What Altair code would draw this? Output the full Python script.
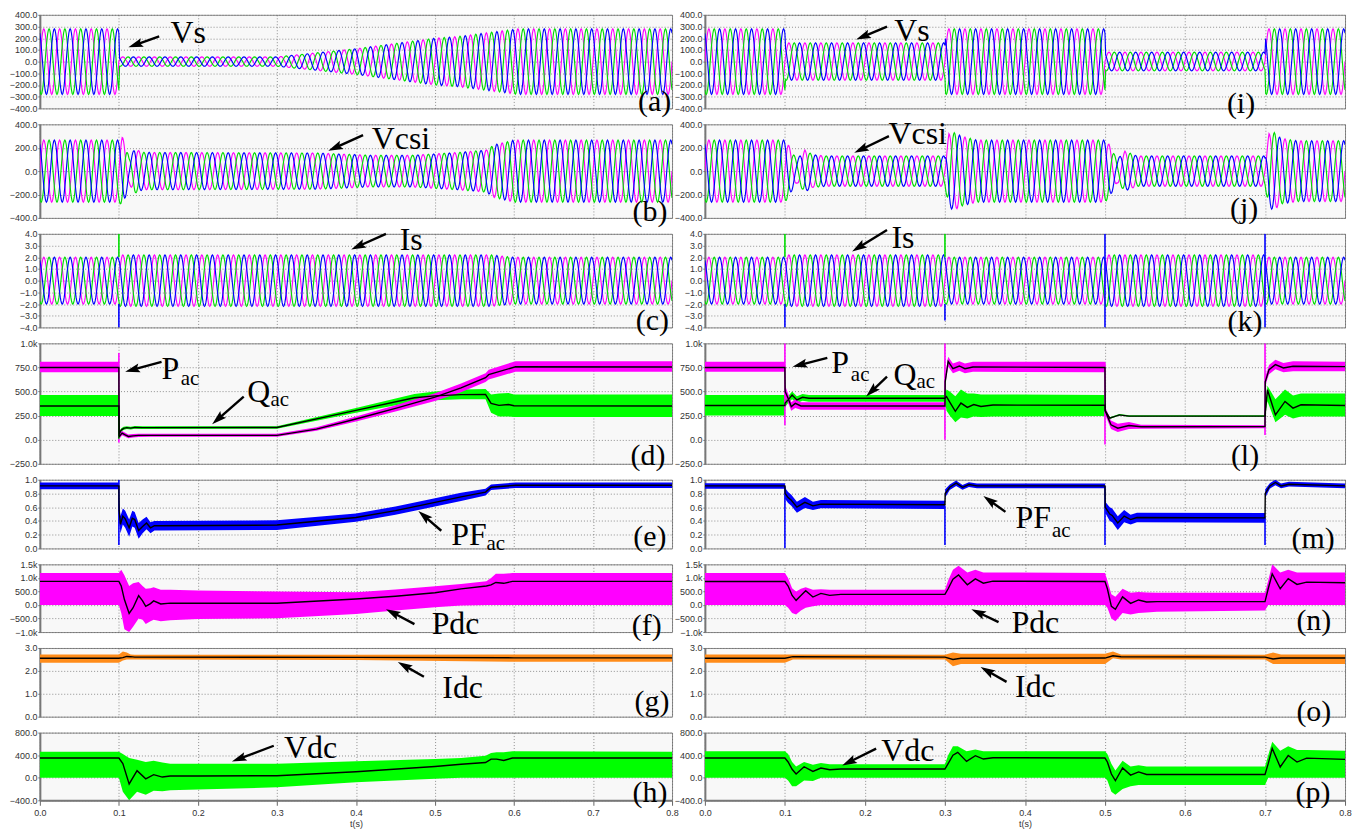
import math
import numpy as np
import pandas as pd
import altair as alt

alt.data_transformers.disable_max_rows()

# ---------------------------------------------------------------- colours
MAG = "#ff00ff"
GRN = "#00dd00"
BLU = "#0000ff"
BGRN = "#00ff00"
ORG = "#ff8c1a"

FREQ = 50.0          # 5 cycles per 0.1 s in the picture
FS = 1200            # drawing resolution of the sinusoids
T_END = 0.8
XT = [0.0, 0.1, 0.2, 0.3, 0.4, 0.5, 0.6, 0.7, 0.8]
PHASES = [("m", 0.0, MAG), ("g", -120.0, GRN), ("b", 120.0, BLU)]

# ================================================================ DATA
# ---- three-phase waveforms: amplitude envelopes
a_env_t = [0, 0.1, 0.1003, 0.3, 0.4, 0.5, 0.53, 0.57, 0.605, 0.8]
a_env_a = [280, 280, 40, 40, 110, 200, 215, 250, 280, 280]
b_env_t = [0, 0.1, 0.104, 0.108, 0.113, 0.12, 0.13, 0.35, 0.42, 0.47, 0.53, 0.565, 0.575, 0.6, 0.8]
b_env_a = [265, 265, 300, 230, 110, 190, 160, 155, 135, 135, 160, 180, 225, 265, 265]
c_env_t = [0, 0.1, 0.1003, 0.57, 0.6, 0.8]
c_env_a = [2.0, 2.0, 2.2, 2.2, 2.0, 2.0]
i_env_t = [0, 0.1, 0.1003, 0.3, 0.3003, 0.5, 0.5003, 0.7, 0.7003, 0.8]
i_env_a = [280, 280, 160, 160, 280, 280, 80, 80, 280, 280]
j_env_t = [0, 0.1, 0.104, 0.11, 0.115, 0.125, 0.135, 0.15, 0.3, 0.305, 0.313, 0.32, 0.34,
           0.5, 0.505, 0.515, 0.525, 0.54, 0.7, 0.705, 0.712, 0.72, 0.74, 0.8]
j_env_a = [265, 265, 230, 150, 100, 180, 140, 130, 130, 320, 330, 300, 265,
           265, 230, 100, 170, 130, 130, 320, 330, 280, 260, 260]
k_env_t = [0, 0.1, 0.1003, 0.3, 0.3003, 0.5, 0.5003, 0.7, 0.7003, 0.8]
k_env_a = [2.0, 2.0, 2.2, 2.2, 2.0, 2.0, 2.2, 2.2, 2.0, 2.0]

# ---- (d) Pac / Qac
d_q_t = [0, 0.1, 0.1003, 0.103, 0.106, 0.11, 0.115, 0.12, 0.13, 0.3, 0.4, 0.474, 0.5, 0.533, 0.564, 0.571, 0.581, 0.593, 0.6, 0.8]
d_q_m = [350, 350, 60, 100, 118, 125, 120, 128, 125, 127, 304, 435, 455, 468, 470, 377, 356, 365, 352, 350]
d_q_lo = [245, 245, 40, 85, 100, 112, 105, 113, 112, 115, 280, 395, 410, 420, 420, 280, 240, 240, 235, 235]
d_q_hi = [465, 465, 80, 118, 135, 140, 135, 143, 140, 140, 330, 475, 500, 520, 525, 470, 480, 485, 470, 470]
d_p_t = [0, 0.1, 0.1003, 0.104, 0.108, 0.112, 0.118, 0.125, 0.14, 0.3, 0.35, 0.4, 0.45, 0.5, 0.533, 0.564, 0.568, 0.602, 0.8]
d_p_m = [750, 750, 30, 68, 50, 34, 40, 45, 45, 45, 110, 215, 325, 442, 537, 644, 675, 757, 755]
d_p_lo = [700, 700, 5, 45, 30, 15, 22, 28, 30, 30, 92, 190, 292, 402, 492, 598, 625, 705, 705]
d_p_hi = [810, 810, 60, 90, 72, 55, 60, 63, 62, 62, 130, 242, 358, 482, 582, 690, 725, 815, 815]

# ---- (e) PFac
e_t = [0, 0.1, 0.1003, 0.102, 0.105, 0.108, 0.113, 0.117, 0.12, 0.125, 0.13, 0.135, 0.14, 0.145, 0.15, 0.3, 0.4, 0.45, 0.5, 0.533, 0.564, 0.571, 0.602, 0.8]
e_m = [0.91, 0.91, 0.55, 0.35, 0.47, 0.43, 0.30, 0.44, 0.42, 0.26, 0.32, 0.37, 0.30, 0.33, 0.33, 0.34, 0.45, 0.55, 0.67, 0.75, 0.82, 0.89, 0.92, 0.92]
e_lo = [0.86, 0.86, 0.40, 0.22, 0.35, 0.30, 0.17, 0.32, 0.30, 0.14, 0.22, 0.28, 0.22, 0.26, 0.26, 0.27, 0.39, 0.49, 0.61, 0.69, 0.77, 0.85, 0.88, 0.88]
e_hi = [0.96, 0.96, 0.70, 0.47, 0.58, 0.55, 0.42, 0.55, 0.53, 0.37, 0.42, 0.46, 0.38, 0.40, 0.40, 0.41, 0.51, 0.61, 0.73, 0.81, 0.87, 0.93, 0.96, 0.96]

# ---- (f) Pdc
f_t = [0, 0.1, 0.103, 0.107, 0.113, 0.118, 0.125, 0.13, 0.134, 0.14, 0.144, 0.153, 0.165, 0.2, 0.3, 0.4, 0.45, 0.5, 0.533, 0.565, 0.571, 0.577, 0.587, 0.598, 0.8]
f_m = [870, 870, 700, 200, -310, -100, 345, 150, -50, 50, 150, 37, 70, 62, 62, 222, 320, 450, 593, 700, 740, 830, 800, 870, 870]
f_lo = [0, 0, -300, -900, -1000, -800, -500, -550, -700, -600, -550, -600, -560, -520, -494, -333, -200, -80, -20, 0, 0, 0, 0, 0, 0]
f_hi = [1180, 1180, 1300, 1100, 700, 800, 850, 700, 600, 620, 650, 560, 560, 530, 494, 470, 568, 691, 778, 880, 1000, 1150, 1150, 1180, 1180]

# ---- (g) Idc
g_t = [0, 0.1, 0.105, 0.11, 0.115, 0.12, 0.4, 0.6, 0.8]
g_m = [2.55, 2.55, 2.58, 2.63, 2.62, 2.6, 2.59, 2.57, 2.57]
g_lo = [2.35, 2.35, 2.45, 2.5, 2.5, 2.5, 2.48, 2.4, 2.4]
g_hi = [2.72, 2.72, 2.85, 2.8, 2.72, 2.7, 2.7, 2.72, 2.72]

# ---- (h) Vdc
h_t = [0, 0.1, 0.105, 0.113, 0.123, 0.134, 0.144, 0.155, 0.165, 0.2, 0.3, 0.4, 0.5, 0.533, 0.564, 0.571, 0.578, 0.587, 0.598, 0.8]
h_m = [350, 350, 250, -110, 125, -20, 55, 12, 30, 32, 35, 105, 200, 240, 270, 330, 330, 305, 350, 350]
h_lo = [0, 0, -250, -400, -250, -300, -230, -240, -220, -210, -170, -80, -20, 0, 0, 0, 0, 0, 0, 0]
h_hi = [460, 460, 420, 350, 320, 280, 300, 270, 250, 250, 250, 290, 330, 350, 390, 440, 450, 450, 470, 460]

# ---- (l) Pac / Qac
l_q_t = [0, 0.1, 0.1003, 0.104, 0.109, 0.115, 0.122, 0.13, 0.3, 0.302, 0.306, 0.313, 0.32, 0.328, 0.336, 0.345, 0.36,
         0.5, 0.5003, 0.506, 0.518, 0.53, 0.7, 0.703, 0.713, 0.725, 0.735, 0.745, 0.8]
l_q_m = [355, 355, 380, 413, 463, 413, 440, 430, 430, 447, 390, 295, 380, 335, 365, 345, 360,
         357, 300, 224, 258, 245, 245, 518, 258, 397, 328, 362, 355]
l_q_lo = [250, 250, 340, 380, 420, 380, 405, 395, 395, 300, 250, 180, 230, 220, 240, 235, 240,
          245, 280, 215, 250, 237, 237, 400, 180, 260, 220, 240, 240]
l_q_hi = [465, 465, 420, 450, 500, 450, 475, 465, 465, 520, 500, 450, 520, 480, 480, 470, 470,
          465, 320, 232, 266, 253, 253, 560, 420, 520, 460, 480, 480]
l_p_t = [0, 0.1, 0.1003, 0.104, 0.108, 0.113, 0.12, 0.3, 0.3003, 0.304, 0.31, 0.318, 0.325, 0.335,
         0.5, 0.5003, 0.5075, 0.516, 0.53, 0.545, 0.7, 0.7003, 0.705, 0.713, 0.723, 0.735, 0.8]
l_p_m = [750, 750, 500, 430, 343, 377, 350, 350, 600, 812, 737, 765, 737, 755,
         750, 300, 155, 120, 147, 135, 137, 600, 727, 779, 745, 762, 758]
l_p_lo = [705, 705, 440, 380, 300, 330, 312, 312, 560, 760, 690, 715, 690, 705,
          700, 260, 110, 80, 110, 115, 120, 560, 680, 730, 700, 710, 710]
l_p_hi = [810, 810, 560, 480, 390, 420, 390, 390, 650, 860, 790, 815, 790, 810,
          810, 340, 200, 165, 185, 155, 150, 650, 775, 830, 795, 815, 810]

# ---- (m) PFac
m_t = [0, 0.1, 0.1003, 0.104, 0.108, 0.115, 0.125, 0.135, 0.145, 0.3, 0.3003, 0.306, 0.314, 0.322, 0.33, 0.34,
       0.5, 0.5003, 0.506, 0.509, 0.516, 0.524, 0.532, 0.54, 0.7, 0.7003, 0.706, 0.713, 0.72, 0.73, 0.8]
m_m = [0.91, 0.91, 0.80, 0.74, 0.70, 0.60, 0.67, 0.62, 0.645, 0.635, 0.80, 0.89, 0.95, 0.89, 0.93, 0.91,
       0.91, 0.60, 0.50, 0.48, 0.37, 0.47, 0.42, 0.45, 0.445, 0.80, 0.91, 0.96, 0.91, 0.935, 0.91]
m_lo = [0.87, 0.87, 0.72, 0.66, 0.62, 0.52, 0.59, 0.56, 0.585, 0.575, 0.74, 0.85, 0.91, 0.855, 0.895, 0.875,
        0.875, 0.52, 0.40, 0.38, 0.27, 0.38, 0.35, 0.38, 0.375, 0.74, 0.87, 0.92, 0.875, 0.90, 0.875]
m_hi = [0.95, 0.95, 0.88, 0.82, 0.78, 0.68, 0.75, 0.68, 0.705, 0.695, 0.86, 0.93, 0.99, 0.925, 0.965, 0.945,
        0.945, 0.68, 0.60, 0.58, 0.47, 0.56, 0.49, 0.52, 0.515, 0.86, 0.95, 1.0, 0.945, 0.97, 0.945]

# ---- (n) Pdc
n_t = [0, 0.1, 0.104, 0.109, 0.114, 0.12, 0.126, 0.135, 0.145, 0.156, 0.17, 0.3, 0.304, 0.31, 0.317, 0.328, 0.338, 0.348, 0.36,
       0.5, 0.503, 0.508, 0.513, 0.522, 0.532, 0.542, 0.552, 0.565, 0.7, 0.704, 0.709, 0.719, 0.729, 0.74, 0.752, 0.8]
n_m = [866, 866, 700, 350, 171, 350, 524, 293, 427, 354, 390, 390, 600, 950, 1110, 744, 963, 805, 880,
       866, 600, -50, -160, 300, 60, 185, 110, 125, 125, 600, 1150, 600, 975, 760, 845, 820]
n_lo = [0, 0, -100, -300, -350, -200, -100, -50, 0, 0, 0, 0, 0, 0, 0, 0, 0, 0, 0,
        0, -100, -500, -600, -300, -350, -300, -280, -250, -200, 0, 0, 0, 0, 0, 0, 0]
n_hi = [1180, 1180, 1000, 620, 500, 600, 650, 560, 580, 560, 560, 560, 900, 1300, 1450, 1200, 1300, 1200, 1200,
        1180, 900, 400, 300, 600, 450, 480, 460, 450, 450, 900, 1500, 1200, 1300, 1200, 1200, 1200]

# ---- (o) Idc
o_t = [0, 0.1, 0.11, 0.3, 0.31, 0.32, 0.5, 0.51, 0.52, 0.7, 0.71, 0.72, 0.8]
o_m = [2.55, 2.55, 2.62, 2.6, 2.5, 2.55, 2.56, 2.66, 2.62, 2.6, 2.52, 2.56, 2.56]
o_lo = [2.35, 2.35, 2.5, 2.5, 2.2, 2.3, 2.3, 2.55, 2.5, 2.5, 2.3, 2.3, 2.3]
o_hi = [2.72, 2.72, 2.72, 2.7, 2.8, 2.75, 2.75, 2.85, 2.72, 2.7, 2.8, 2.72, 2.72]

# ---- (p) Vdc
p_t = [0, 0.1, 0.104, 0.109, 0.114, 0.124, 0.135, 0.145, 0.156, 0.17, 0.3, 0.304, 0.31, 0.316, 0.327, 0.338, 0.348, 0.36,
       0.5, 0.503, 0.508, 0.513, 0.522, 0.532, 0.542, 0.552, 0.7, 0.704, 0.709, 0.719, 0.729, 0.74, 0.752, 0.8]
p_m = [349, 349, 280, 150, 65, 195, 112, 172, 142, 154, 154, 250, 400, 450, 290, 391, 331, 355,
       349, 280, 65, -53, 174, 46, 104, 58, 58, 250, 520, 191, 394, 278, 348, 325]
p_lo = [0, 0, -50, -150, -150, -50, -60, 0, 0, 0, 0, 0, 0, 0, 0, 0, 0, 0,
        0, -50, -250, -300, -200, -150, -130, -130, -130, 0, 0, 0, 0, 0, 0, 0]
p_hi = [470, 470, 420, 280, 200, 280, 230, 260, 240, 240, 240, 400, 560, 560, 470, 500, 470, 470,
        470, 420, 250, 130, 300, 200, 220, 200, 200, 400, 640, 480, 560, 490, 490, 480]

# ---- switching spikes (time, from, to, colour)
c_spikes = [(0.1, 2.0, 4.0, GRN), (0.1, -4.0, -2.0, BLU)]
k_spikes = [(0.1, 2.0, 4.0, GRN), (0.1, -4.0, -2.0, BLU), (0.3, 2.0, 4.0, GRN), (0.3, -3.4, -2.0, BLU),
            (0.5, -4.0, 4.0, BLU), (0.7, -4.0, 4.0, BLU)]
d_spikes = [(0.1, -30, 900, MAG), (0.1, 10, 250, BGRN)]
e_spikes = [(0.1, 0.05, 1.0, BLU)]
l_spikes = [(0.1, 150, 1000, MAG), (0.3, 0, 1000, MAG), (0.5, -50, 800, MAG), (0.7, 50, 1000, MAG)]
m_spikes = [(0.1, 0.0, 0.9, BLU), (0.3, 0.05, 0.62, BLU), (0.5, 0.05, 0.9, BLU), (0.7, 0.05, 0.45, BLU)]

# ---- annotations (text, t, value, font size) and arrows (tail t, tail v, head t, head v)
texts = {
    "a": [("Vs", 0.1877, 240, 32)],
    "b": [("Vcsi", 0.457, 274, 32)],
    "c": [("Is", 0.470, 3.5, 32)],
    "d": [("P", 0.165, 736, 32), ("ac", 0.190, 634, 21), ("Q", 0.277, 490, 32), ("ac", 0.3035, 408, 21)],
    "e": [("PF", 0.543, 0.198, 32), ("ac", 0.577, 0.068, 21)],
    "f": [("Pdc", 0.526, -706, 32)],
    "g": [("Idc", 0.535, 1.26, 32)],
    "h": [("Vdc", 0.3426, 533, 32)],
    "i": [("Vs", 0.2587, 257, 32)],
    "j": [("Vcsi", 0.266, 316, 32)],
    "k": [("Is", 0.2475, 3.67, 32)],
    "l": [("P", 0.169, 798, 32), ("ac", 0.194, 675, 21), ("Q", 0.250, 675, 32), ("ac", 0.276, 603, 21)],
    "m": [("PF", 0.4104, 0.445, 32), ("ac", 0.4453, 0.257, 21)],
    "n": [("Pdc", 0.413, -669, 32)],
    "o": [("Idc", 0.413, 1.3, 32)],
    "p": [("Vdc", 0.2537, 480, 32)],
}
arrows = {
    "a": [(0.151, 215, 0.112, 122)],
    "b": [(0.409, 307, 0.365, 173)],
    "c": [(0.438, 4.0, 0.394, 2.67)],
    "d": [(0.154, 808, 0.108, 705), (0.258, 448, 0.218, 161)],
    "e": [(0.508, 0.257, 0.479, 0.546)],
    "f": [(0.474, -706, 0.438, -154)],
    "g": [(0.486, 1.74, 0.453, 2.39)],
    "h": [(0.296, 567, 0.243, 287)],
    "i": [(0.2276, 299, 0.189, 189)],
    "j": [(0.230, 299, 0.1866, 156)],
    "k": [(0.2276, 4.33, 0.184, 2.5)],
    "l": [(0.153, 849, 0.1095, 757), (0.2276, 654, 0.2015, 448)],
    "m": [(0.3756, 0.532, 0.348, 0.764)],
    "n": [(0.367, -632, 0.333, -154)],
    "o": [(0.377, 1.52, 0.3445, 2.17)],
    "p": [(0.214, 515, 0.1716, 217)],
}
letters = {
    "a": (0.778, -349), "b": (0.772, -349), "c": (0.775, -3.42), "d": (0.7695, -168),
    "e": (0.772, 0.17), "f": (0.768, -779), "g": (0.7746, 0.65), "h": (0.772, -272),
    "i": (0.670, -366), "j": (0.674, -324), "k": (0.675, -3.5), "l": (0.675, -168),
    "m": (0.760, 0.14), "n": (0.761, -596), "o": (0.761, 0.22), "p": (0.760, -272),
}

# ================================================================ LAYOUT / STYLE
LW, RW = 635, 643
HEIGHTS = [94, 94, 94, 121, 69, 68, 69, 68]
LABEL_EXPR = ("abs(datum.value) >= 1000 ? format(datum.value / 1000, '.1f') + 'k' "
              ": format(datum.value, '.1f')")
ARROW_PATH = "M0,0L0.5,1.65L0,1.35L-0.5,1.65Z"
ARROW_SIZE = 324
SERIF = "Liberation Serif"
SANS = "Liberation Sans"


def make_enc(bottom, dom, ticks):
    if bottom:
        xax = alt.Axis(values=XT, grid=True, labels=True, ticks=True, domain=True,
                       title="t(s)", format=".1f", labelFlush=False)
    else:
        xax = alt.Axis(values=XT, grid=True, labels=False, ticks=False, domain=False, title=None)
    yax = alt.Axis(values=ticks, grid=True, title=None, labelExpr=LABEL_EXPR)
    xs = alt.Scale(domain=[0, T_END], nice=False, zero=False)
    ys = alt.Scale(domain=dom, nice=False, zero=False)

    def X(f):
        return alt.X(f"{f}:Q", scale=xs, axis=xax)

    def Y(f):
        return alt.Y(f"{f}:Q", scale=ys, axis=yax)
    return X, Y


def overlay_layers(key, X, Y, width, height, dom):
    layers = []
    px_t = width / T_END
    px_v = height / (dom[1] - dom[0])
    rows = []
    for (t1, v1, t2, v2) in arrows[key]:
        dx = (t2 - t1) * px_t
        dy = (v2 - v1) * px_v          # upward positive
        L = math.hypot(dx, dy)
        ux, uy = dx / L, dy / L
        back = 9.0
        te = t2 - ux * back / px_t
        ve = v2 - uy * back / px_v
        ang = math.degrees(math.atan2(dx, dy)) % 360
        rows.append({"t1": t1, "v1": v1, "t2": te, "v2": ve, "th": t2, "vh": v2, "ang": ang})
    adf = pd.DataFrame(rows)
    layers.append(alt.Chart(adf).mark_rule(color="black", strokeWidth=2.4).encode(
        x=X("t1"), x2=alt.X2("t2:Q"), y=Y("v1"), y2=alt.Y2("v2:Q")))
    layers.append(alt.Chart(adf).mark_point(shape=ARROW_PATH, filled=True, color="black",
                                            opacity=1, size=ARROW_SIZE, strokeWidth=0).encode(
        x=X("th"), y=Y("vh"), angle=alt.Angle("ang:Q", scale=None)))
    tdf = pd.DataFrame([{"txt": s, "t": t, "v": v, "sz": z} for (s, t, v, z) in texts[key]])
    layers.append(alt.Chart(tdf).mark_text(font=SERIF, align="center", baseline="middle",
                                           color="black").encode(
        x=X("t"), y=Y("v"), text="txt:N", size=alt.Size("sz:Q", scale=None)))
    lt, lv = letters[key]
    ldf = pd.DataFrame([{"txt": f"({key})", "t": lt, "v": lv}])
    layers.append(alt.Chart(ldf).mark_text(font=SERIF, fontSize=30, align="center",
                                           baseline="middle", color="black").encode(
        x=X("t"), y=Y("v"), text="txt:N"))
    return layers


def spike_layer(spikes, X, Y):
    sdf = pd.DataFrame([{"t": t, "lo": a, "hi": b, "c": c} for (t, a, b, c) in spikes])
    return alt.Chart(sdf).mark_rule(strokeWidth=1.6, clip=True).encode(
        x=X("t"), y=Y("lo"), y2=alt.Y2("hi:Q"), color=alt.Color("c:N", scale=None))


def wave_panel(key, env_t, env_a, dom, ticks, width, height, bottom=False, spikes=None):
    X, Y = make_enc(bottom, dom, ticks)
    t = np.round(np.arange(0, T_END + 1e-9, 1.0 / FS), 6)
    amp = np.interp(t, env_t, env_a)
    layers = []
    for name, ph, col in PHASES:
        v = amp * np.sin(2 * np.pi * FREQ * t + np.deg2rad(ph))
        df = pd.DataFrame({"t": t, "v": np.round(v, 3)})
        layers.append(alt.Chart(df).mark_line(color=col, strokeWidth=1.15, clip=True).encode(
            x=X("t"), y=Y("v")))
    if spikes:
        layers.append(spike_layer(spikes, X, Y))
    layers += overlay_layers(key, X, Y, width, height, dom)
    return alt.layer(*layers).properties(width=width, height=height)


def band_panel(key, series, dom, ticks, width, height, bottom=False, spikes=None):
    X, Y = make_enc(bottom, dom, ticks)
    layers = []
    dfs = []
    for (tt, mm, lo, hi, col) in series:
        df = pd.DataFrame({"t": tt, "m": mm, "lo": lo, "hi": hi})
        dfs.append(df)
        layers.append(alt.Chart(df).mark_area(color=col, opacity=1, clip=True).encode(
            x=X("t"), y=Y("lo"), y2=alt.Y2("hi:Q")))
    if spikes:
        layers.append(spike_layer(spikes, X, Y))
    for df in dfs:
        layers.append(alt.Chart(df).mark_line(color="black", strokeWidth=1.4, clip=True).encode(
            x=X("t"), y=Y("m")))
    layers += overlay_layers(key, X, Y, width, height, dom)
    return alt.layer(*layers).properties(width=width, height=height)


T100 = [-400, -300, -200, -100, 0, 100, 200, 300, 400]
T200 = [-400, -200, 0, 200, 400]
T1 = [-4, -3, -2, -1, 0, 1, 2, 3, 4]
TPQ = [-250, 0, 250, 500, 750, 1000]
TPF = [0, 0.2, 0.4, 0.6, 0.8, 1.0]
TPD = [-1000, -500, 0, 500, 1000, 1500]
TID = [0, 1, 2, 3]
TVD = [-400, 0, 400, 800]


def column(keys, W, wv, bands):
    (ka, kb, kc, kd, ke, kf, kg, kh) = keys
    H = HEIGHTS
    return [
        wave_panel(ka, wv[0][0], wv[0][1], [-400, 400], T100, W, H[0]),
        wave_panel(kb, wv[1][0], wv[1][1], [-400, 400], T200, W, H[1]),
        wave_panel(kc, wv[2][0], wv[2][1], [-4, 4], T1, W, H[2], spikes=wv[2][2]),
        band_panel(kd, bands["pq"], [-250, 1000], TPQ, W, H[3], spikes=bands["pq_sp"]),
        band_panel(ke, bands["pf"], [0, 1], TPF, W, H[4], spikes=bands["pf_sp"]),
        band_panel(kf, bands["pdc"], [-1000, 1500], TPD, W, H[5]),
        band_panel(kg, bands["idc"], [0, 3], TID, W, H[6]),
        band_panel(kh, bands["vdc"], [-400, 800], TVD, W, H[7], bottom=True),
    ]


left = column("abcdefgh", LW,
              [(a_env_t, a_env_a), (b_env_t, b_env_a), (c_env_t, c_env_a, c_spikes)],
              {"pq": [(d_q_t, d_q_m, d_q_lo, d_q_hi, BGRN), (d_p_t, d_p_m, d_p_lo, d_p_hi, MAG)],
               "pq_sp": d_spikes,
               "pf": [(e_t, e_m, e_lo, e_hi, BLU)], "pf_sp": e_spikes,
               "pdc": [(f_t, f_m, f_lo, f_hi, MAG)],
               "idc": [(g_t, g_m, g_lo, g_hi, ORG)],
               "vdc": [(h_t, h_m, h_lo, h_hi, BGRN)]})
right = column("ijklmnop", RW,
               [(i_env_t, i_env_a), (j_env_t, j_env_a), (k_env_t, k_env_a, k_spikes)],
               {"pq": [(l_q_t, l_q_m, l_q_lo, l_q_hi, BGRN), (l_p_t, l_p_m, l_p_lo, l_p_hi, MAG)],
                "pq_sp": l_spikes,
                "pf": [(m_t, m_m, m_lo, m_hi, BLU)], "pf_sp": m_spikes,
                "pdc": [(n_t, n_m, n_lo, n_hi, MAG)],
                "idc": [(o_t, o_m, o_lo, o_hi, ORG)],
                "vdc": [(p_t, p_m, p_lo, p_hi, BGRN)]})

cells = []
for lp, rp in zip(left, right):
    cells += [lp, rp]

chart = alt.concat(*cells, columns=2, spacing={"row": 16, "column": 33},
                   bounds="flush", align="each").properties(
    padding={"left": 0, "top": 0, "right": 0, "bottom": 0},
    background="white",
).configure_view(
    stroke="#8a8a8a", strokeWidth=1, fill="#f8f8f8"
).configure_axis(
    labelFont=SANS, labelFontSize=9, labelColor="#333333",
    titleFont=SANS, titleFontSize=9, titleFontWeight="normal", titleColor="#333333",
    tickColor="#666666", domainColor="#777777",
    gridColor="#666666", gridDash=[1, 2], gridWidth=0.8, gridOpacity=0.9,
).configure_axisY(
    domainWidth=2, tickSize=2, labelPadding=1,
).configure_axisX(
    domainWidth=2, tickSize=5, labelPadding=3, titlePadding=2,
)

chart.save("out.html", embed_options={"renderer": "svg", "actions": False})
